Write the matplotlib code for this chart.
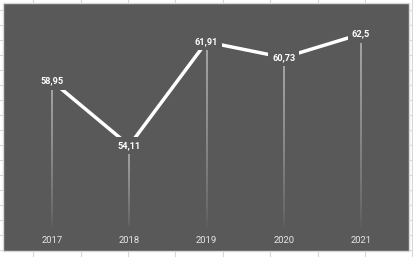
import matplotlib
matplotlib.use("Agg")
import matplotlib.pyplot as plt
import numpy as np
from matplotlib.patches import Rectangle
from matplotlib.lines import Line2D
from matplotlib.collections import LineCollection

# Daten
jahre = ["2017", "2018", "2019", "2020", "2021"]
werte = [58.95, 54.11, 61.91, 60.73, 62.5]
beschriftung = ["58,95", "54,11", "61,91", "60,73", "62,5"]

B, H = 414, 257
fig = plt.figure(figsize=(B / 100, H / 100), dpi=100)
fig.patch.set_facecolor("white")

# Tabellen-Gitter im Hintergrund
for x in [33, 81, 128, 175, 223, 270, 318, 365, 412]:
    fig.add_artist(Line2D([x / B, x / B], [0, 1], transform=fig.transFigure,
                          color="#d6d6d6", lw=0.8, zorder=-3))
for y in np.arange(10, 257, 15):
    fig.add_artist(Line2D([0, 1], [1 - y / H, 1 - y / H], transform=fig.transFigure,
                          color="#d6d6d6", lw=0.8, zorder=-3))

# Diagrammfläche
fig.add_artist(Rectangle((3.5 / B, 1 - 251 / H), (409 - 3.5) / B, (251 - 3) / H,
                         transform=fig.transFigure, facecolor="#595959",
                         edgecolor="#d9d9d9", lw=1.0, zorder=-1))

ax = fig.add_axes([13.4 / B, 1 - 226.7 / H, (399.6 - 13.4) / B, (226.7 - 14.1) / H])
ax.set_facecolor("none")
ax.set_xlim(-0.5, 4.5)
ax.set_ylim(48, 64)
for s in ax.spines.values():
    s.set_visible(False)
ax.set_yticks([])

x = np.arange(len(jahre))

# Lotlinien mit Verlauf
segmente = []
alphas = []
for xi, w in zip(x, werte):
    ys = np.linspace(w, 48, 41)
    for k in range(40):
        segmente.append([(xi, ys[k]), (xi, ys[k + 1])])
        alphas.append(0.9 * (1 - k / 40) ** 0.7)
farben = [(0.78, 0.78, 0.78, a) for a in alphas]
ax.add_collection(LineCollection(segmente, colors=farben, linewidths=1.1, zorder=1))

ax.plot(x, werte, color="white", lw=2.5, solid_capstyle="butt", zorder=2)

for xi, w, t in zip(x, werte, beschriftung):
    ax.text(xi, w, t, ha="center", va="center", color="white", fontsize=6.6,
            fontweight="bold", family=["Roboto", "DejaVu Sans"], zorder=3,
            bbox=dict(boxstyle="square,pad=0.45", facecolor="#595959", edgecolor="none"))

ax.set_xticks(x)
ax.set_xticklabels(jahre, color="#e6e6e6", fontsize=6.8, family=["Roboto", "DejaVu Sans"])
ax.tick_params(axis="x", length=0, pad=7)

fig.savefig("out.png", dpi=100)
